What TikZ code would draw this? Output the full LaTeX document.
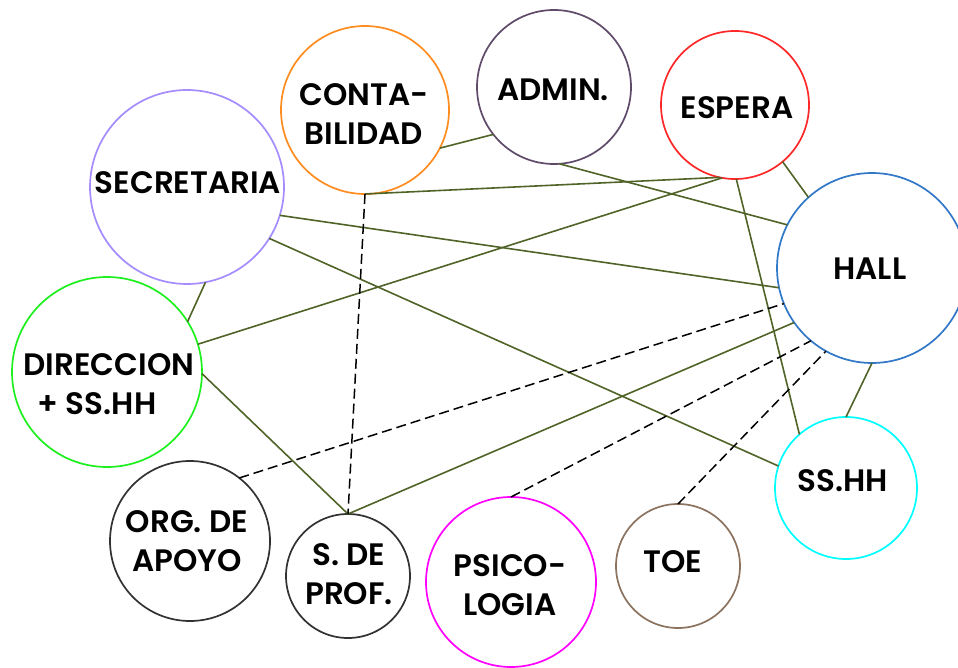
\documentclass[tikz,border=0pt]{standalone}
\usepackage{fontspec}
\setmainfont{Poppins}[BoldFont={Poppins SemiBold}]
\definecolor{lineol}{RGB}{80,100,40}
\definecolor{corange}{RGB}{255,140,30}
\definecolor{cadmin}{RGB}{95,75,105}
\definecolor{cred}{RGB}{255,40,40}
\definecolor{clav}{RGB}{165,140,255}
\definecolor{cblue}{RGB}{50,120,200}
\definecolor{cgreen}{RGB}{30,240,30}
\definecolor{ccyan}{RGB}{0,255,255}
\definecolor{cdark}{RGB}{50,50,50}
\definecolor{cmag}{RGB}{255,0,255}
\definecolor{cbrown}{RGB}{140,115,95}
\tikzset{
  room/.style={circle, draw=#1, line width=1.7pt, inner sep=0pt, outer sep=0pt},
  lbl/.style={font=\bfseries\fontsize{31}{39}\selectfont, align=center, text=black, inner sep=0pt},
  link/.style={draw=lineol, line width=1.6pt},
  dlink/.style={draw=black, line width=1.5pt, dash pattern=on 10pt off 5pt},
}
\begin{document}
\begin{tikzpicture}[x=1pt,y=-1pt]
\useasboundingbox (0,0) rectangle (958,668);
\fill[white] (0,0) rectangle (958,668);
% circles
\node[room=corange, minimum size=168pt] (conta) at (365,110) {};
\node[room=cadmin, minimum size=154pt] (admin) at (554,87) {};
\node[room=cred, minimum size=148pt] (espera) at (735,105) {};
\node[room=clav, minimum size=194pt] (sec) at (187,187) {};
\node[room=cblue, minimum size=190pt] (hall) at (872,268) {};
\node[room=cgreen, minimum size=190pt] (dir) at (107,372) {};
\node[room=ccyan, minimum size=142pt] (sshh) at (846,488) {};
\node[room=cdark, minimum size=160pt] (org) at (190,541) {};
\node[room=cdark, minimum size=124pt] (sdp) at (348,576) {};
\node[room=cmag, minimum size=170pt] (psi) at (511,582) {};
\node[room=cbrown, minimum size=124pt] (toe) at (678,566) {};
% labels
\node[lbl] (conta-t) at (364,114) {CONTA-\\BILIDAD};
\node[lbl] (admin-t) at (553,90) {ADMIN.};
\node[lbl] (espera-t) at (737,108) {ESPERA};
\node[lbl] (sec-t) at (188,183) {SECRETARIA};
\node[lbl] (hall-t) at (870,269) {HALL};
\node[lbl] (dir-t) at (109,384) {DIRECCION\\+ SS.HH\kern24pt};
\node[lbl] (sshh-t) at (843,481) {SS.HH};
\node[lbl] (org-t) at (187,541) {ORG. DE\\APOYO};
\node[lbl] (sdp-t) at (349,574) {S. DE\\PROF.};
\node[lbl] (psi-t) at (510,585) {PSICO-\\LOGIA};
\node[lbl] (toe-t) at (673,562) {TOE};
% solid connectors
\draw[link] (conta.-27) -- (admin.-142);
\draw[link] (conta.-90) -- (espera.-102);
\draw[link] (admin.-86) -- (hall.153);
\draw[link] (espera.-50) -- (hall.132);
\draw[link] (espera.-89) -- (sshh.131);
\draw[link] (sec.-17) -- (hall.-168);
\draw[link] (sec.-32) -- (sshh.162);
\draw[link] (sec.-79) -- (dir.32);
\draw[link] (dir.17) -- (espera.-100);
\draw[link] (dir.-1) -- (sdp.90);
\draw[link] (sdp.90) -- (hall.-145);
\draw[link] (hall.-90) -- (sshh.90);
% dashed connectors
\draw[dlink] (conta.-90) -- (sdp.90);
\draw[dlink] (org.52) -- (hall.-158);
\draw[dlink] (psi.90) -- (hall.-130);
\draw[dlink] (toe.90) -- (hall.-119);
\end{tikzpicture}
\end{document}
